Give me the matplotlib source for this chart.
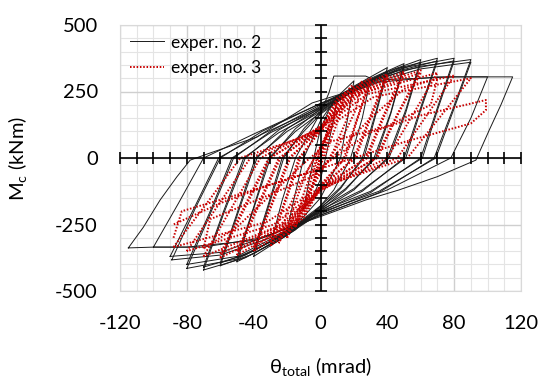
import numpy as np
import matplotlib
matplotlib.use("Agg")
import matplotlib.pyplot as plt

plt.rcParams['font.family'] = ['Lato', 'DejaVu Sans']
plt.rcParams['mathtext.fontset'] = 'custom'
plt.rcParams['mathtext.rm'] = 'Lato'
plt.rcParams['axes.unicode_minus'] = False

# exper. no. 2 - one loop per list (theta in mrad, M in kNm)
exp2_theta = [
    [-10, -7, -3, 0, 5, 10, 7, 3, 0, -5, -10],
    [-20, -15, -10, 0, 10, 20, 16, 12, 0, -10, -20],
    [-30, -23, -15, 0, 5, 8, 27, 30, 25, 18, 8, 0, -15, -30],
    [-40, -31, -22, -10, 0, 20, 40, 33, 25, 12, 0, -20, -40],
    [-40, -31, -23, -10, 0, 20, 40, 33, 26, 12, 0, -20, -40],
    [-50, -40, -30, -15, 0, 25, 50, 42, 32, 15, 0, -25, -50],
    [-50, -40, -31, -15, 0, 25, 50, 42, 33, 15, 0, -25, -50],
    [-60, -49, -38, -20, 0, 20, 40, 60, 51, 40, 20, 0, -20, -40, -60],
    [-60, -49, -39, -20, 0, 20, 40, 60, 51, 41, 20, 0, -20, -40, -60],
    [-70, -58, -45, -25, 0, 20, 45, 70, 60, 50, 25, 0, -20, -45, -70],
    [-70, -58, -46, -25, 0, 20, 45, 70, 60, 51, 25, 0, -20, -45, -70],
    [-80, -66, -52, -30, 0, 25, 50, 80, 70, 60, 30, 0, -25, -50, -80],
    [-80, -66, -53, -30, 0, 25, 50, 80, 70, 61, 30, 0, -25, -50, -80],
    [-89, -75, -60, -35, 0, 30, 60, 90, 79, 68, 35, 0, -30, -60, -89],
    [-90, -75, -61, -35, 0, 30, 60, 90, 79, 69, 35, 0, -30, -60, -90],
    [-100, -85, -70, -40, 0, 35, 70, 100, 90, 78, 40, 0, -35, -70, -100],
    [-115, -106, -96, -86, -78, -66, -38, -5, 40, 80, 115, 108, 101, 93, 70, 47, 27,
     0, -40, -80, -100, -115],
]
exp2_moment = [
    [-190, -90, 30, 110, 180, 220, 120, 0, -80, -150, -190],
    [-270, -130, 0, 140, 230, 290, 140, 0, -150, -220, -270],
    [-330, -160, 0, 170, 244, 308, 308, 300, 150, 0, -120, -180, -270, -330],
    [-370, -180, 0, 110, 175, 270, 340, 170, 0, -115, -190, -290, -370],
    [-350, -170, 0, 100, 165, 255, 325, 160, 0, -110, -180, -275, -350],
    [-390, -190, 0, 110, 185, 285, 355, 170, 0, -120, -195, -310, -390],
    [-375, -185, 0, 100, 170, 275, 345, 165, 0, -115, -185, -300, -375],
    [-405, -200, 0, 110, 190, 265, 325, 370, 180, 0, -120, -200, -285, -360, -405],
    [-395, -190, 0, 100, 175, 255, 315, 360, 170, 0, -115, -190, -275, -350, -395],
    [-421, -210, 0, 105, 195, 268, 335, 375, 190, 0, -125, -205, -290, -375, -421],
    [-410, -200, 0, 95, 180, 258, 325, 365, 180, 0, -120, -195, -280, -365, -410],
    [-415, -210, 0, 100, 200, 280, 340, 375, 190, 0, -130, -210, -300, -380, -415],
    [-400, -200, 0, 95, 185, 270, 330, 365, 180, 0, -125, -200, -290, -370, -400],
    [-383, -190, 0, 100, 205, 290, 345, 370, 180, 0, -130, -215, -300, -365, -383],
    [-370, -180, 0, 90, 190, 280, 335, 360, 170, 0, -125, -205, -290, -355, -370],
    [-335, -170, 0, 90, 205, 285, 305, 305, 150, 0, -120, -215, -300, -335, -335],
    [-338, -260, -158, -71, -8, 19, 79, 207, 295, 305, 305, 200, 105, -8, -70, -120,
     -158, -220, -310, -335, -335, -338],
]

# exper. no. 3
exp3_theta = [
    [-5, -2, 2, 5, 3, 0, -3, -5],
    [-10, -7, -2, 4, 10, 7, 2, -4, -10],
    [-15, -11, -4, 5, 15, 11, 4, -5, -15],
    [-20, -16, -8, 3, 12, 17, 19, 20, 16, 8, -3, -12, -20],
    [-25, -20, -10, 2, 14, 25, 21, 12, 0, -13, -25],
    [-30, -21, -12, 0, 10, 30, 22, 14, 0, -10, -30],
    [-30, -21, -13, 0, 10, 30, 22, 15, 0, -10, -30],
    [-40, -29, -18, 0, 14, 40, 30, 20, 0, -14, -40],
    [-40, -29, -19, 0, 14, 40, 30, 21, 0, -14, -40],
    [-50, -37, -24, 0, 18, 50, 38, 27, 0, -18, -50],
    [-50, -37, -25, 0, 18, 50, 38, 28, 0, -18, -50],
    [-60, -45, -30, 0, 21, 60, 46, 33, 0, -21, -60],
    [-60, -45, -31, 0, 21, 60, 46, 34, 0, -21, -60],
    [-70, -53, -36, 0, 25, 70, 55, 40, 0, -25, -70],
    [-80, -61, -42, 0, 28, 80, 63, 46, 0, -28, -80],
    [-88, -68, -48, 0, 32, 90, 71, 52, 0, -32, -88],
    [-70, -66, -35, -5, 10, 30, 50, 70, 66, 40, 5, -10, -30, -50, -70],
    [-88, -83, -40, -2, 29, 60, 99, 99, 90, 50, 10, -30, -60, -88],
]
exp3_moment = [
    [-110, -40, 50, 120, 60, 0, -60, -110],
    [-200, -110, -10, 100, 210, 120, 20, -90, -200],
    [-260, -150, -30, 100, 250, 150, 30, -100, -260],
    [-300, -180, -50, 80, 200, 260, 274, 262, 150, 30, -90, -200, -300],
    [-320, -200, -70, 60, 190, 290, 180, 60, -50, -190, -320],
    [-330, -165, 0, 110, 225, 300, 150, 0, -110, -225, -330],
    [-315, -155, 0, 100, 215, 290, 145, 0, -100, -215, -315],
    [-350, -175, 0, 115, 235, 315, 160, 0, -115, -240, -350],
    [-335, -165, 0, 105, 225, 305, 150, 0, -105, -230, -335],
    [-365, -180, 0, 115, 240, 325, 165, 0, -120, -250, -365],
    [-350, -170, 0, 105, 230, 315, 155, 0, -110, -240, -350],
    [-375, -185, 0, 120, 245, 330, 165, 0, -125, -255, -375],
    [-360, -175, 0, 110, 235, 320, 160, 0, -115, -245, -360],
    [-370, -185, 0, 115, 245, 320, 160, 0, -120, -255, -370],
    [-350, -175, 0, 110, 240, 310, 155, 0, -115, -250, -350],
    [-335, -170, 0, 100, 230, 300, 150, 0, -110, -240, -335],
    [-340, -230, -150, -70, 20, 150, 260, 300, 200, 120, 60, -20, -140, -260, -340],
    [-300, -200, -120, -45, 94, 160, 218, 180, 130, 60, -20, -100, -170, -250],
]

fig = plt.figure(figsize=(5.42, 3.85), dpi=100)
ax = fig.add_axes([120 / 542, 1 - 291 / 385, 401 / 542, 266 / 385])

for i in range(len(exp2_theta)):
    ax.plot(exp2_theta[i], exp2_moment[i], color='#1a1a1a', lw=0.7,
            label='exper. no. 2' if i == 0 else None, zorder=3)
for i in range(len(exp3_theta)):
    ax.plot(exp3_theta[i], exp3_moment[i], color='#c80000', lw=1.4,
            dashes=(0.8, 0.9), label='exper. no. 3' if i == 0 else None, zorder=4)

ax.set_xlim(-120, 120)
ax.set_ylim(-500, 500)
ax.set_xticks(np.arange(-120, 121, 40))
ax.set_xticks(np.arange(-120, 121, 10), minor=True)
ax.set_yticks(np.arange(-500, 501, 250))
ax.set_yticks(np.arange(-500, 501, 50), minor=True)
ax.grid(which='major', color='#cfcfcf', lw=1.0, zorder=0)
ax.grid(which='minor', color='#e4e4e4', lw=0.8, zorder=0)
ax.set_axisbelow(True)
ax.tick_params(which='both', length=0, labelsize=14.5)
ax.tick_params(axis='x', pad=17)
ax.tick_params(axis='y', pad=16)
for s in ax.spines.values():
    s.set_color('#d9d9d9')

# axes through the origin with cross ticks
ax.axhline(0, color='black', lw=1.2, zorder=5)
ax.axvline(0, color='black', lw=1.2, zorder=5)
xt = np.arange(-120, 121, 10)
yt = np.arange(-500, 501, 50)
ax.plot(xt, np.zeros(len(xt)), ls='none', marker='|', ms=8, mew=1.2,
        color='black', clip_on=False, zorder=5)
ax.plot(np.zeros(len(yt)), yt, ls='none', marker='_', ms=8, mew=1.2,
        color='black', clip_on=False, zorder=5)

ax.set_xlabel(r'θ$_{\rm total}$ (mrad)', fontsize=14.5)
ax.set_ylabel(r'M$_{\rm c}$ (kNm)', fontsize=14.5)
ax.xaxis.set_label_coords(0.5, -0.245)
ax.yaxis.set_label_coords(-0.225, 0.5)

ax.legend(loc='upper left', frameon=False, fontsize=12.5, handlelength=2.0,
          handletextpad=0.4, labelspacing=0.55, borderaxespad=0.15)

fig.savefig('out.png', dpi=100, facecolor='white')
